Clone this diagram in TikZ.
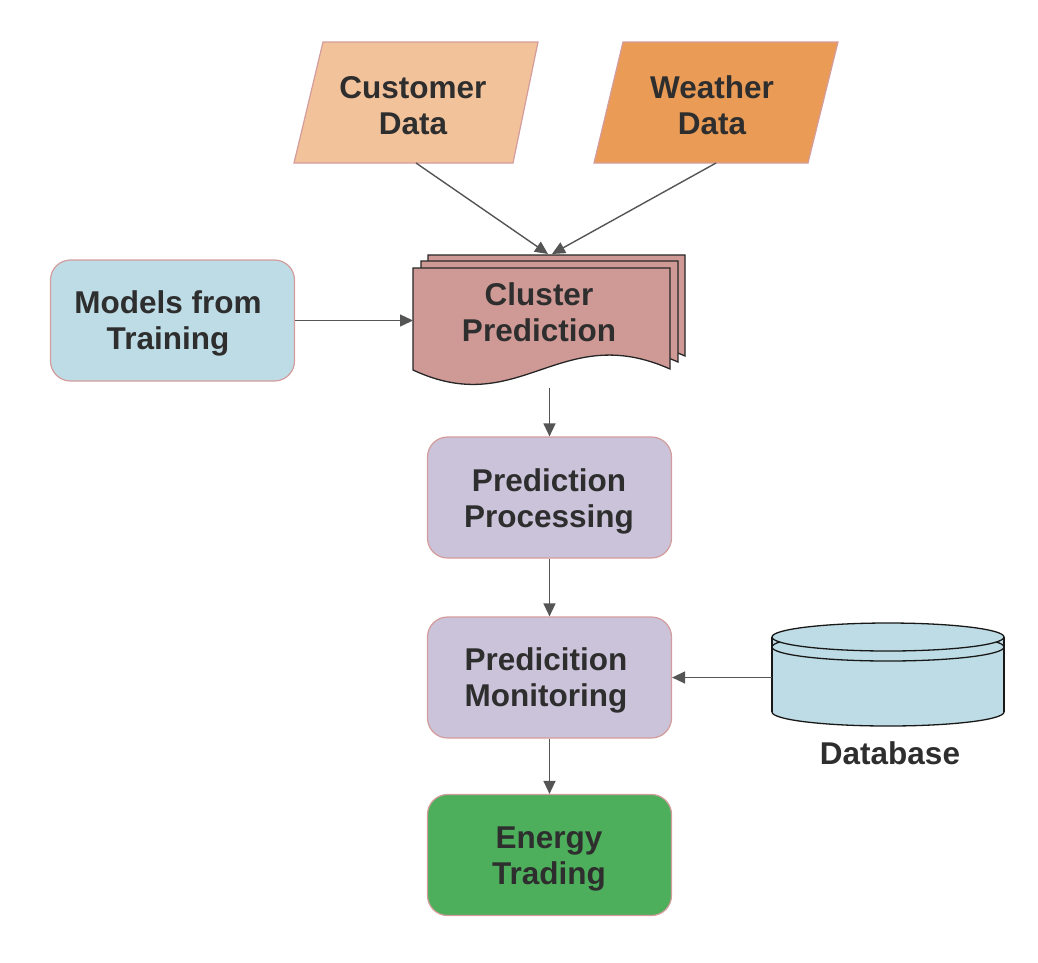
\documentclass[tikz,border=0pt]{standalone}
\usepackage{fontspec}
\setmainfont{Liberation Sans}
\usetikzlibrary{arrows.meta}
\definecolor{txt}{HTML}{2E2E2E}
\definecolor{edge}{HTML}{555555}
\definecolor{pinkline}{HTML}{D49C9C}
\definecolor{lblue}{HTML}{BEDCE6}
\definecolor{peach}{HTML}{F2C29B}
\definecolor{orng}{HTML}{EA9C56}
\definecolor{rose}{HTML}{CF9A96}
\definecolor{lav}{HTML}{CBC3DA}
\definecolor{grn}{HTML}{4DAE5B}
\tikzset{
  lbl/.style={text=txt, align=center, yshift=-2.5pt, font=\bfseries\fontsize{31.5}{36}\selectfont},
  box/.style={draw=pinkline, line width=1.2pt, rounded corners=20pt, minimum width=244pt, minimum height=121pt, inner sep=0pt},
  conn/.style={draw=edge, line width=1.4pt, -{Triangle[length=13pt,width=12pt]}},
  docpart/.style={draw=black!85, fill=rose, line width=1.3pt},
  para/.style={draw=pinkline, line width=1.2pt},
  dbline/.style={draw=black!90, line width=1.3pt}
}
\begin{document}
\begin{tikzpicture}[x=1pt,y=-1pt]
\useasboundingbox (0,0) rectangle (1038,962);

% parallelograms
\path[para, fill=peach] (323,42) -- (538,42) -- (513,163) -- (294,163) -- cycle;
\node[lbl] (cust) at (413,103) {Customer\\Data};
\coordinate (custB) at (416,163);
\path[para, fill=orng] (623,42) -- (838,42) -- (808,163) -- (594,163) -- cycle;
\node[lbl] (weath) at (712,103) {Weather\\Data};
\coordinate (weathB) at (716,163);

% multi-document
\foreach \dx/\dy in {15/-13, 8/-7, 0/0}{
  \path[docpart] (413+\dx,268+\dy) -- (670+\dx,268+\dy) -- (670+\dx,369+\dy)
    .. controls (560+\dx,320+\dy) and (520+\dx,420+\dy) .. (413+\dx,370+\dy) -- cycle;
}
\node[lbl] (cluster) at (539,310) {Cluster\\Prediction};
\coordinate (clA) at (548,254);
\coordinate (clB) at (552,254);
\coordinate (clL) at (413,320.5);
\coordinate (clD) at (549.5,388);

% boxes
\node[box, fill=lblue] (models) at (172.5,320.5) {};
\node[lbl] at (168,321) {Models from\\Training};
\node[box, fill=lav] (proc) at (549.5,497.5) {};
\node[lbl] at (549,499) {Prediction\\Processing};
\node[box, fill=lav] (mon) at (549.5,677.5) {};
\node[lbl] at (546,678) {Predicition\\Monitoring};
\node[box, fill=grn] (trade) at (549.5,855) {};
\node[lbl] at (549,856) {Energy\\Trading};

% database cylinder
\path[dbline, fill=lblue] (888,712) ellipse [x radius=116, y radius=14];
\fill[lblue] (772.7,637) rectangle (1003.3,712);
\draw[dbline] (772,637) -- (772,712);
\draw[dbline] (1004,637) -- (1004,712);
\path[dbline, fill=lblue] (888,647) ellipse [x radius=116, y radius=14];
\path[dbline, fill=lblue] (888,637) ellipse [x radius=116, y radius=14];
\coordinate (db) at (772,677.5);
\node[lbl] (dblabel) at (890,751) {Database};

% connectors
\draw[conn] (custB) -- (clA);
\draw[conn] (weathB) -- (clB);
\draw[conn] (models.east) -- (clL);
\draw[conn] (clD) -- (proc.north);
\draw[conn] (proc.south) -- (mon.north);
\draw[conn] (db) -- (mon.east);
\draw[conn] (mon.south) -- (trade.north);
\end{tikzpicture}
\end{document}
